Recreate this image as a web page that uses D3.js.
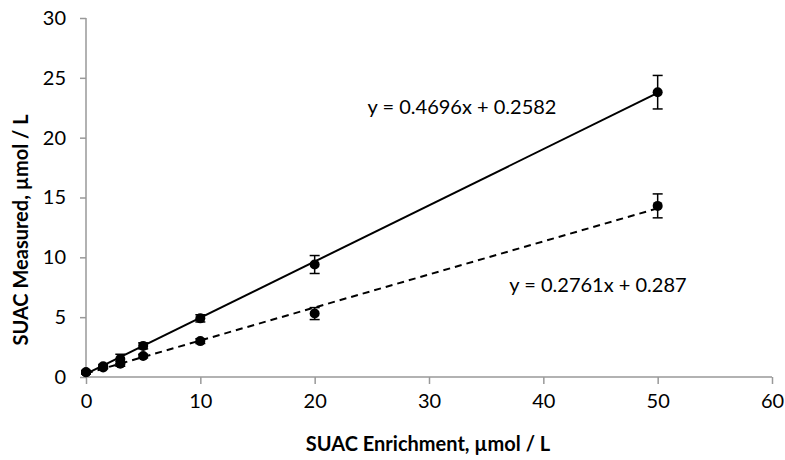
<!DOCTYPE html>
<html>
<head>
<meta charset="utf-8">
<script src="https://cdn.jsdelivr.net/npm/d3@7"></script>
<style>
  body { margin: 0; background: #fff; }
  text { font-family: Lato, "Open Sans", sans-serif; fill: #000; }
</style>
</head>
<body>
<script>
// enrichment levels (x)
var enrichment = [0, 1.5, 3, 5, 10, 20, 50];
// solid series: measured means and error
var measuredA = [0.4, 0.9, 1.5, 2.6, 4.9, 9.4, 23.8];
var errorA = [0.15, 0.15, 0.4, 0.25, 0.3, 0.75, 1.4];
// dashed series
var measuredB = [0.4, 0.8, 1.1, 1.75, 3.0, 5.3, 14.3];
var errorB = [0.1, 0.1, 0.2, 0.15, 0.2, 0.5, 1.0];
var fitA = { slope: 0.4696, icpt: 0.2582, label: "y = 0.4696x + 0.2582" };
var fitB = { slope: 0.2761, icpt: 0.287, label: "y = 0.2761x + 0.287" };
var xTicks = [0, 10, 20, 30, 40, 50, 60];
var yTicks = [0, 5, 10, 15, 20, 25, 30];

var svg = d3.select("body").append("svg").attr("width", 785).attr("height", 460);

var x = d3.scaleLinear().domain([0, 60]).range([86, 772]);
var y = d3.scaleLinear().domain([0, 30]).range([377, 18]);

var xAxis = svg.append("g").attr("transform", "translate(0,377)")
  .call(d3.axisBottom(x).tickValues(xTicks).tickSize(7).tickPadding(10));
var yAxis = svg.append("g").attr("transform", "translate(86,0)")
  .call(d3.axisLeft(y).tickValues(yTicks).tickSize(6).tickPadding(14));
[xAxis, yAxis].forEach(function(a) {
  a.selectAll("path, line").attr("stroke", "#999").attr("stroke-width", 1.5);
  a.selectAll("text").style("font-size", "20px").attr("fill", "#000");
  a.select(".domain").attr("d", a === xAxis ? "M86,0H772" : "M0,18V377");
});

function drawSeries(vals, errs, fit, dash) {
  svg.append("line")
    .attr("x1", x(0)).attr("y1", y(fit.icpt))
    .attr("x2", x(50)).attr("y2", y(fit.slope * 50 + fit.icpt))
    .attr("stroke", "#000").attr("stroke-width", 2)
    .attr("stroke-dasharray", dash ? "7,5" : null);
  enrichment.forEach(function(e, i) {
    var cx = x(e);
    svg.append("line").attr("x1", cx).attr("x2", cx)
      .attr("y1", y(vals[i] - errs[i])).attr("y2", y(vals[i] + errs[i]))
      .attr("stroke", "#000").attr("stroke-width", 1.5);
    [vals[i] - errs[i], vals[i] + errs[i]].forEach(function(v) {
      svg.append("line").attr("x1", cx - 5).attr("x2", cx + 5)
        .attr("y1", y(v)).attr("y2", y(v))
        .attr("stroke", "#000").attr("stroke-width", 1.5);
    });
    svg.append("circle").attr("cx", cx).attr("cy", y(vals[i])).attr("r", 5).attr("fill", "#000");
  });
}
drawSeries(measuredA, errorA, fitA, false);
drawSeries(measuredB, errorB, fitB, true);

svg.append("text").attr("x", 462).attr("y", 114).attr("text-anchor", "middle")
  .style("font-size", "20px").text(fitA.label);
svg.append("text").attr("x", 598).attr("y", 292).attr("text-anchor", "middle")
  .style("font-size", "20px").text(fitB.label);

svg.append("text").attr("x", 428).attr("y", 451).attr("text-anchor", "middle")
  .style("font-size", "20px").style("font-weight", "bold").text("SUAC Enrichment, \u00b5mol / L");
svg.append("text").attr("transform", "translate(28,230) rotate(-90)").attr("text-anchor", "middle")
  .style("font-size", "20px").style("font-weight", "bold").text("SUAC Measured, \u00b5mol / L");
</script>
</body>
</html>
